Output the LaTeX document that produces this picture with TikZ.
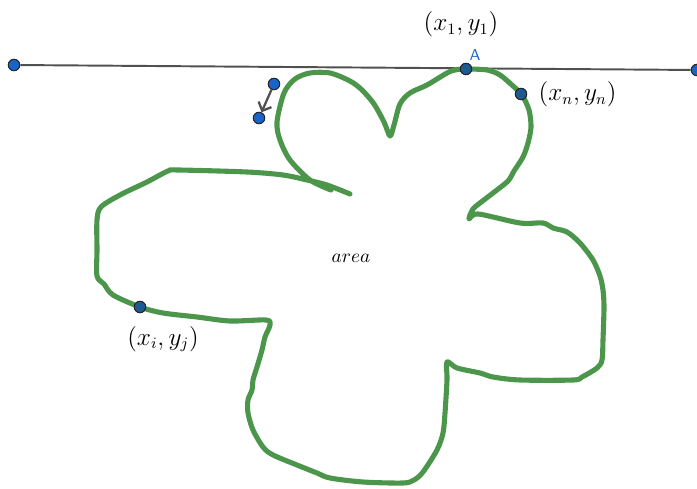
\documentclass[tikz,border=0pt]{standalone}
\usepackage{amsmath}
\usetikzlibrary{arrows.meta}
\usetikzlibrary{positioning}
\definecolor{c1}{RGB}{25,100,200}
\definecolor{c2}{RGB}{76,150,76}
\definecolor{c3}{RGB}{80,80,80}
\definecolor{c4}{RGB}{28,90,145}
\tikzstyle{vertex}=[circle, draw=black!85, fill=c1, minimum size=0.23cm, inner sep=0pt, line width=0.6pt]
\tikzset{
  vertex_on/.style={vertex, fill=c4},
  lbl/.style={inner sep=0pt, font=\fontsize{13.5}{16}\selectfont},
  edge/.style = {c3, line width=1.1pt},
  vec/.style = {c3, line width=1.3pt, -{Straight Barb[length=4pt,width=8pt]}},
  blob/.style = {c2, line width=2.9pt, line cap=round, line join=round},
}

\begin{document}
\begin{tikzpicture}[x=0.02cm, y=-0.02cm]
    \useasboundingbox (0,0) rectangle (697,489);

    % the line through A
    \node[vertex] (l1) at (14,65){};
    \node[vertex] (l2) at (697,70){};
    \draw[edge] (l1) -- (l2);

    % the region
    \draw[blob] plot[smooth, tension=0.5] coordinates {
      (350,194) (327,185) (307,180) (283,175) (247,172) (178,170) (168,171)
      (147,182) (120,195) (101,207) (97,220) (97,250) (97,276) (104,284)
      (113,295) (140,307) (163,313) (197,317) (230,321) (266,320) (270,325)
      (265,337) (262,350) (257,367) (253,380) (252,390) (248,400) (248,413)
      (253,430) (263,447) (273,455) (297,465) (317,473) (330,478) (363,482)
      (403,483) (414,480) (423,472) (437,450) (443,433) (445,413) (447,380)
      (447,362) (457,368) (480,373) (493,377) (520,380) (573,380) (582,377)
      (597,368) (602,360) (603,340) (604,307) (603,290) (600,276) (593,260)
      (580,243) (567,232) (553,228) (543,223) (520,223) (478,214) (469,219)
      (473,209) (480,203) (493,193) (508,181) (514,171) (523,157) (528,143)
      (531,127) (529,110) (522,95) (513,86) (500,75) (487,70) (466,69)
      (455,70) (447,73) (427,85) (410,93) (400,104) (394,125) (390,136)
      (384,122) (374,104) (362,90) (350,81) (330,73) (310,73) (295,79)
      (284,93) (277,122) (280,140) (290,160) (310,180) (331,190)
    };

    % points on the curve
    \node[vertex_on] (A) at (466,69){};
    \node[vertex_on] (pn) at (521,94){};
    \node[vertex_on] (pi) at (140,307){};

    % the vector
    \node[vertex] (u) at (274,84){};
    \node[vertex] (v) at (259,118){};
    \draw[vec] (u) -- (v);

    \node[lbl] (t1) at (461,24) {$(x_1,y_1)$};
    \node[inner sep=0pt, text=c1, font=\sffamily\small] (tA) at (475,55) {A};
    \node[lbl, right=0.22cm of pn] (tn) {$(x_n,y_n)$};
    \node[lbl] (ti) at (163,339) {$(x_i,y_j)$};
    \node[inner sep=0pt, font=\fontsize{10.5}{12}\selectfont] (tarea) at (351,258) {$area$};
\end{tikzpicture}
\end{document}
